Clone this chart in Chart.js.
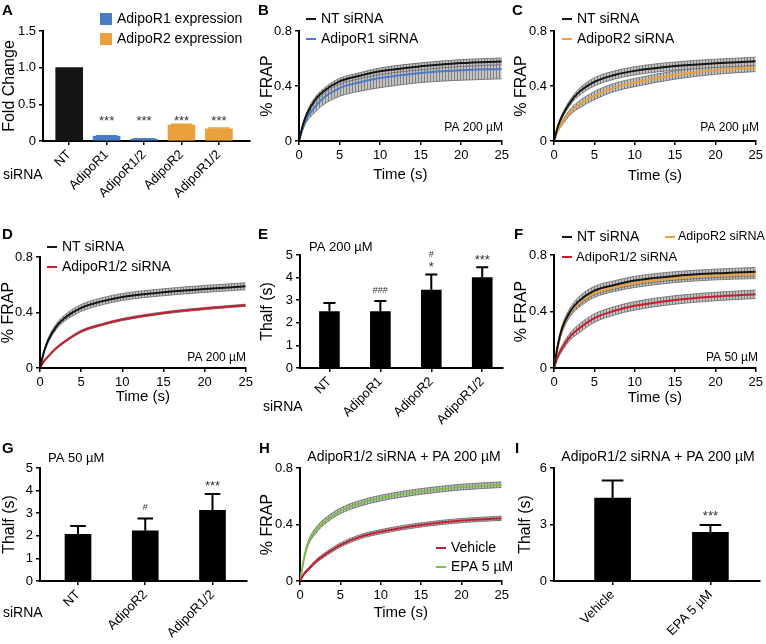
<!DOCTYPE html>
<html><head><meta charset="utf-8">
<script src="https://cdn.jsdelivr.net/npm/chart.js@4.4.1/dist/chart.umd.min.js"></script>
<style>
html,body{margin:0;padding:0;background:#fff;}
body{width:766px;height:644px;position:relative;overflow:hidden;}
canvas{position:absolute;}
</style></head><body>
<canvas id="cA"></canvas><canvas id="cB"></canvas><canvas id="cC"></canvas>
<canvas id="cD"></canvas><canvas id="cE"></canvas><canvas id="cF"></canvas>
<canvas id="cG"></canvas><canvas id="cH"></canvas><canvas id="cI"></canvas>
<script>
// ================= DATA =================
// Panel A: fold change of expression
const catA = ['NT', 'AdipoR1', 'AdipoR1/2', 'AdipoR2', 'AdipoR1/2'];
const foldNT = [1, null, null, null, null];
const foldR1 = [null, 0.065, 0.025, null, null];
const foldR2 = [null, null, null, 0.215, 0.165];
const errFoldR1 = [null, 0.008, 0.004, null, null];
const errFoldR2 = [null, null, null, 0.012, 0.012];
const sigA = ['', '***', '***', '***', '***'];

// FRAP time axis (s)
const timeS = [0, 0.5, 1, 2, 3, 5, 7.5, 10, 15, 20, 25];

// Panel B (PA 200 µM)
const frapB_NT  = [0, 0.12, 0.20, 0.30, 0.36, 0.434, 0.475, 0.507, 0.543, 0.567, 0.579];
const semB_NT   = [0, 0.01, 0.015, 0.02, 0.02, 0.022, 0.022, 0.024, 0.025, 0.025, 0.025];
const frapB_R1  = [0, 0.10, 0.17, 0.25, 0.313, 0.385, 0.427, 0.458, 0.495, 0.514, 0.524];
const semB_R1   = [0, 0.015, 0.025, 0.04, 0.05, 0.06, 0.065, 0.07, 0.07, 0.072, 0.072];
// Panel C (PA 200 µM)
const frapC_NT  = [0, 0.11, 0.18, 0.28, 0.35, 0.43, 0.48, 0.51, 0.545, 0.565, 0.58];
const semC_NT   = [0, 0.01, 0.015, 0.02, 0.025, 0.03, 0.03, 0.03, 0.03, 0.03, 0.03];
const frapC_R2  = [0, 0.08, 0.13, 0.21, 0.26, 0.33, 0.39, 0.425, 0.48, 0.515, 0.535];
const semC_R2   = [0, 0.01, 0.015, 0.02, 0.025, 0.03, 0.03, 0.03, 0.03, 0.03, 0.03];
// Panel D (PA 200 µM)
const frapD_NT  = [0, 0.12, 0.20, 0.30, 0.36, 0.433, 0.48, 0.512, 0.546, 0.57, 0.589];
const semD_NT   = [0, 0.01, 0.015, 0.02, 0.022, 0.025, 0.025, 0.025, 0.025, 0.025, 0.025];
const frapD_R12 = [0, 0.05, 0.084, 0.144, 0.19, 0.264, 0.3125, 0.349, 0.397, 0.428, 0.452];
const semD_R12  = [0, 0.004, 0.005, 0.006, 0.007, 0.008, 0.008, 0.008, 0.008, 0.008, 0.008];
// Panel F (PA 50 µM)
const frapF_NT  = [0, 0.17, 0.28, 0.40, 0.47, 0.548, 0.588, 0.619, 0.652, 0.67, 0.682];
const semF_NT   = [0, 0.015, 0.02, 0.025, 0.03, 0.03, 0.03, 0.03, 0.03, 0.03, 0.03];
const frapF_R2  = [0, 0.16, 0.27, 0.39, 0.454, 0.53, 0.572, 0.60, 0.635, 0.654, 0.663];
const semF_R2   = [0, 0.015, 0.02, 0.025, 0.03, 0.03, 0.03, 0.03, 0.03, 0.03, 0.03];
const frapF_R12 = [0, 0.085, 0.14, 0.224, 0.275, 0.353, 0.405, 0.44, 0.482, 0.506, 0.522];
const semF_R12  = [0, 0.015, 0.02, 0.025, 0.03, 0.03, 0.03, 0.03, 0.03, 0.03, 0.03];
// Panel H (AdipoR1/2 siRNA + PA 200 µM)
const frapH_Veh = [0, 0.05, 0.081, 0.14, 0.183, 0.254, 0.314, 0.349, 0.397, 0.428, 0.444];
const semH_Veh  = [0, 0.008, 0.01, 0.012, 0.014, 0.015, 0.015, 0.015, 0.015, 0.015, 0.015];
const frapH_EPA = [0, 0.16, 0.266, 0.36, 0.42, 0.496, 0.551, 0.587, 0.634, 0.665, 0.682];
const semH_EPA  = [0, 0.01, 0.015, 0.02, 0.02, 0.02, 0.02, 0.02, 0.02, 0.02, 0.02];

// Panel E: Thalf, PA 200 µM
const catE = ['NT', 'AdipoR1', 'AdipoR2', 'AdipoR1/2'];
const thalfE = [2.5, 2.5, 3.45, 4.0];
const errE = [0.38, 0.46, 0.69, 0.46];
const sigE = ['', '###', '#\n*', '***'];
// Panel G: Thalf, PA 50 µM
const catG = ['NT', 'AdipoR2', 'AdipoR1/2'];
const thalfG = [2.07, 2.22, 3.13];
const errG = [0.36, 0.54, 0.72];
const sigG = ['', '#', '***'];
// Panel I: Thalf, AdipoR1/2 siRNA + PA 200 µM
const catI = ['Vehicle', 'EPA 5 µM'];
const thalfI = [4.4, 2.58];
const errI = [0.94, 0.39];
const sigI = ['', '***'];

// ================= STYLE / HELPERS =================
const FONT = "'Liberation Sans', Arial, Helvetica, sans-serif";
const fnt = (s, b) => (b ? 'bold ' : '') + s + 'px ' + FONT;
Chart.defaults.font.family = FONT;
Chart.defaults.font.size = 13;
Chart.defaults.font.weight = 'normal';
Chart.defaults.color = '#000';

const COL = { black: '#151515', blue: '#4a7cc6', orange: '#e9a23b', red: '#c51f2f', green: '#7dbd4c' };

const stripeCanvas = document.createElement('canvas');
stripeCanvas.width = 3; stripeCanvas.height = 4;
(function () {
  const g = stripeCanvas.getContext('2d');
  g.fillStyle = '#c3c3c3'; g.fillRect(0, 0, 3, 4);
  g.fillStyle = '#808080'; g.fillRect(0, 0, 1, 4);
})();
const stripe = document.createElement('canvas').getContext('2d').createPattern(stripeCanvas, 'repeat');

const decor = {
  id: 'decor',
  afterDraw(chart, args, o) {
    const ctx = chart.ctx;
    ctx.save();
    (o.texts || []).forEach(t => {
      ctx.font = t.font; ctx.fillStyle = '#000';
      ctx.textAlign = t.align || 'left'; ctx.textBaseline = t.base || 'middle';
      ctx.fillText(t.text, t.x, t.y);
    });
    const named = chart.data.datasets.filter(d => d.label);
    (o.legend || []).forEach(it => {
      const d = named[it.k];
      if (it.box) {
        ctx.fillStyle = d.backgroundColor;
        ctx.fillRect(it.x, it.y - it.box / 2, it.box, it.box);
      } else {
        ctx.strokeStyle = d.borderColor; ctx.lineWidth = 2;
        ctx.beginPath(); ctx.moveTo(it.x, it.y); ctx.lineTo(it.x + 10, it.y); ctx.stroke();
      }
      ctx.font = fnt(it.size || 14); ctx.fillStyle = '#000'; ctx.textAlign = 'left'; ctx.textBaseline = 'middle';
      ctx.fillText(d.label, it.x + (it.tx || 15), it.y);
    });
    ctx.restore();
  }
};

const barExtras = {
  id: 'barExtras',
  afterDatasetsDraw(chart, args, o) {
    if (!o || !o.on) return;
    const ctx = chart.ctx, ys = chart.scales.y;
    chart.data.datasets.forEach((ds, di) => {
      const meta = chart.getDatasetMeta(di);
      meta.data.forEach((el, k) => {
        const p = ds.data[k]; const i = p.x;
        const err = ds.errors ? ds.errors[i] : null;
        let top = el.y;
        if (err) {
          top = ys.getPixelForValue(p.y + err);
          ctx.save(); ctx.strokeStyle = ds.errColor || '#000'; ctx.lineWidth = o.errWidth || 2;
          ctx.beginPath(); ctx.moveTo(el.x, el.y); ctx.lineTo(el.x, top);
          const hw = el.width * (o.capFrac || 0.3);
          ctx.moveTo(el.x - hw, top); ctx.lineTo(el.x + hw, top); ctx.stroke(); ctx.restore();
        }
        const note = ds.notes ? ds.notes[i] : '';
        if (note) {
          const lines = note.split('\n').reverse();
          const cy = o.noteAt != null ? ys.getPixelForValue(o.noteAt) : top - o.noteGap;
          lines.forEach((ln, j) => {
            const star = ln.includes('*');
            const fs = star ? 13 : 9;
            ctx.save(); ctx.font = fnt(fs); ctx.fillStyle = '#333';
            ctx.textAlign = 'center'; ctx.textBaseline = 'alphabetic';
            ctx.fillText(ln, el.x, cy - j * 10 + (star ? 0.59 : 0.36) * fs);
            ctx.restore();
          });
        }
      });
    });
  }
};
Chart.register(decor, barExtras);

function canvasFor(id, g) {
  const c = document.getElementById(id);
  c.width = g.w; c.height = g.h;
  c.style.left = g.x + 'px'; c.style.top = g.y + 'px';
  return c;
}
const gridCfg = { display: true, drawOnChartArea: false, drawTicks: true, tickLength: 4, color: '#000', lineWidth: 1.5, offset: false };
const borderCfg = { display: true, color: '#000', width: 2 };

function baseOptions(g, xOpts, yOpts, plugins) {
  return {
    responsive: false, animation: false, events: [],
    layout: { padding: { left: 0, top: g.t, right: g.w - g.r, bottom: 0 } },
    plugins: Object.assign({ legend: { display: false }, tooltip: { enabled: false } }, plugins),
    scales: {
      x: Object.assign({ type: 'linear', position: 'bottom', offset: false, afterFit: s => { s.height = g.h - g.b; },
        grid: gridCfg, border: borderCfg }, xOpts),
      y: Object.assign({ type: 'linear', position: 'left', afterFit: s => { s.width = g.l; },
        grid: gridCfg, border: borderCfg }, yOpts)
    }
  };
}

function frapChart(id, g, series, o) {
  const datasets = [];
  series.forEach(s => {
    datasets.push({ data: timeS.map((t, i) => ({ x: t, y: s.mean[i] + s.sem[i] })), borderColor: '#666',
      borderWidth: 0.8, pointRadius: 0, fill: false, order: 10, cubicInterpolationMode: 'monotone' });
    datasets.push({ data: timeS.map((t, i) => ({ x: t, y: s.mean[i] - s.sem[i] })), borderColor: '#666',
      borderWidth: 0.8, pointRadius: 0, fill: '-1', backgroundColor: stripe, order: 10, cubicInterpolationMode: 'monotone' });
  });
  series.forEach(s => datasets.push({ label: s.label, data: timeS.map((t, i) => ({ x: t, y: s.mean[i] })),
    borderColor: s.color, borderWidth: 2, pointRadius: 0, fill: false, order: 0, cubicInterpolationMode: 'monotone' }));
  return new Chart(canvasFor(id, g), {
    type: 'line', data: { datasets },
    options: baseOptions(g,
      { min: 0, max: 25, ticks: { stepSize: 5, maxRotation: 0, padding: 3, font: { size: 13 } },
        title: { display: true, text: 'Time (s)', font: { size: 15, weight: 'normal', lineHeight: 1 }, padding: { top: 0, bottom: o.xPad } } },
      { min: 0, max: 0.8, ticks: { stepSize: 0.4, padding: 3, font: { size: 13 } },
        title: { display: true, text: '% FRAP', font: { size: 16, weight: 'normal', lineHeight: 1 }, padding: { top: o.yPad, bottom: 0 } } },
      { decor: { texts: o.texts, legend: o.legend } })
  });
}

function barChart(id, g, cats, series, o) {
  const datasets = series.map(s => ({
    type: 'bar', label: s.label,
    data: cats.map((c, i) => ({ x: i, y: s.values[i] })).filter(p => p.y != null),
    backgroundColor: s.color, barThickness: o.barW, grouped: false,
    errors: s.errors, notes: s.notes, errColor: s.errColor
  }));
  return new Chart(canvasFor(id, g), {
    type: 'bar', data: { datasets },
    options: baseOptions(g,
      { min: o.xr[0], max: o.xr[1], offset: false,
        afterBuildTicks: s => { s.ticks = cats.map((c, i) => ({ value: i })); },
        ticks: { autoSkip: false, minRotation: 45, maxRotation: 45, padding: 2, font: { size: 13 },
          callback: v => cats[v] } },
      { min: 0, max: o.ymax, ticks: { stepSize: o.ystep, padding: 3, font: { size: 13 } },
        title: { display: true, text: o.yTitle, font: { size: 16, weight: 'normal', lineHeight: 1 }, padding: { top: o.yPad, bottom: 0 } } },
      { decor: { texts: o.texts, legend: o.legend }, barExtras: o.extras })
  });
}

// ================= PANELS =================
barChart('cA', { x: 0, y: 0, w: 256, h: 215, l: 43, t: 31, r: 250, b: 141 }, catA, [
  { values: foldNT, color: COL.black },
  { label: 'AdipoR1 expression', values: foldR1, color: COL.blue, errors: errFoldR1, errColor: COL.blue, notes: sigA },
  { label: 'AdipoR2 expression', values: foldR2, color: COL.orange, errors: errFoldR2, errColor: COL.orange, notes: sigA }
], { barW: 27, xr: [-0.70, 4.83], ymax: 1.5, ystep: 0.5, yTitle: 'Fold Change', yPad: 2,
  extras: { on: true, errWidth: 1.5, capFrac: 0.4, noteAt: 0.32 },
  legend: [{ k: 0, x: 100, y: 19, box: 12, tx: 17 }, { k: 1, x: 100, y: 39, box: 12, tx: 17 }],
  texts: [{ text: 'A', x: 2, y: 15, font: fnt(15, true), base: 'alphabetic' },
          { text: 'siRNA', x: 3, y: 175, font: fnt(14) }] });

frapChart('cB', { x: 256, y: 0, w: 256, h: 215, l: 43, t: 31, r: 247, b: 141 }, [
  { label: 'NT siRNA', color: COL.black, mean: frapB_NT, sem: semB_NT },
  { label: 'AdipoR1 siRNA', color: COL.blue, mean: frapB_R1, sem: semB_R1 }
], { xPad: 32.5, yPad: 4,
  legend: [{ k: 0, x: 50, y: 19 }, { k: 1, x: 50, y: 39 }],
  texts: [{ text: 'B', x: 2, y: 15, font: fnt(15, true), base: 'alphabetic' },
          { text: 'PA 200 µM', x: 247, y: 128, align: 'right', font: fnt(12) }] });

frapChart('cC', { x: 510, y: 0, w: 256, h: 215, l: 44, t: 31, r: 249, b: 141 }, [
  { label: 'NT siRNA', color: COL.black, mean: frapC_NT, sem: semC_NT },
  { label: 'AdipoR2 siRNA', color: COL.orange, mean: frapC_R2, sem: semC_R2 }
], { xPad: 31.5, yPad: 4,
  legend: [{ k: 0, x: 52, y: 19 }, { k: 1, x: 52, y: 39 }],
  texts: [{ text: 'C', x: 2, y: 15, font: fnt(15, true), base: 'alphabetic' },
          { text: 'PA 200 µM', x: 249, y: 128, align: 'right', font: fnt(12) }] });

frapChart('cD', { x: 0, y: 215, w: 256, h: 215, l: 40, t: 42, r: 246, b: 153 }, [
  { label: 'NT siRNA', color: COL.black, mean: frapD_NT, sem: semD_NT },
  { label: 'AdipoR1/2 siRNA', color: COL.red, mean: frapD_R12, sem: semD_R12 }
], { xPad: 25.5, yPad: 1,
  legend: [{ k: 0, x: 47, y: 32 }, { k: 1, x: 47, y: 52 }],
  texts: [{ text: 'D', x: 2, y: 24, font: fnt(15, true), base: 'alphabetic' },
          { text: 'PA 200 µM', x: 246, y: 143, align: 'right', font: fnt(12) }] });

barChart('cE', { x: 256, y: 215, w: 256, h: 215, l: 44, t: 40, r: 247, b: 153 }, catE, [
  { values: thalfE, color: '#000', errors: errE, notes: sigE }
], { barW: 20, xr: [-0.578, 3.408], ymax: 5, ystep: 1, yTitle: 'Thalf (s)', yPad: 4,
  extras: { on: true, errWidth: 2, capFrac: 0.3, noteGap: 11 },
  texts: [{ text: 'E', x: 2, y: 24, font: fnt(15, true), base: 'alphabetic' },
          { text: 'PA 200 µM', x: 53, y: 32, font: fnt(13) },
          { text: 'siRNA', x: 7, y: 192, font: fnt(14) }] });

frapChart('cF', { x: 510, y: 215, w: 256, h: 215, l: 44, t: 40, r: 249, b: 153 }, [
  { label: 'NT siRNA', color: COL.black, mean: frapF_NT, sem: semF_NT },
  { label: 'AdipoR2 siRNA', color: COL.orange, mean: frapF_R2, sem: semF_R2 },
  { label: 'AdipoR1/2 siRNA', color: COL.red, mean: frapF_R12, sem: semF_R12 }
], { xPad: 24.5, yPad: 4,
  legend: [{ k: 0, x: 52, y: 22, size: 14 }, { k: 1, x: 155, y: 22, tx: 13, size: 12.5 }, { k: 2, x: 52, y: 42, tx: 14, size: 13 }],
  texts: [{ text: 'F', x: 4, y: 24, font: fnt(15, true), base: 'alphabetic' },
          { text: 'PA 50 µM', x: 248, y: 143, align: 'right', font: fnt(12) }] });

barChart('cG', { x: 0, y: 430, w: 256, h: 214, l: 40, t: 38, r: 247, b: 151 }, catG, [
  { values: thalfG, color: '#000', errors: errG, notes: sigG }
], { barW: 26, xr: [-0.565, 2.513], ymax: 5, ystep: 1, yTitle: 'Thalf (s)', yPad: 2,
  extras: { on: true, errWidth: 2, capFrac: 0.3, noteGap: 12 },
  texts: [{ text: 'G', x: 2, y: 23, font: fnt(15, true), base: 'alphabetic' },
          { text: 'PA 50 µM', x: 48, y: 28, font: fnt(13) },
          { text: 'siRNA', x: 3, y: 183, font: fnt(14) }] });

frapChart('cH', { x: 256, y: 430, w: 256, h: 214, l: 44, t: 38, r: 249, b: 151 }, [
  { label: 'Vehicle', color: COL.red, mean: frapH_Veh, sem: semH_Veh },
  { label: 'EPA 5 µM', color: COL.green, mean: frapH_EPA, sem: semH_EPA }
], { xPad: 23.5, yPad: 4,
  legend: [{ k: 0, x: 180, y: 118 }, { k: 1, x: 180, y: 137 }],
  texts: [{ text: 'H', x: 3, y: 23, font: fnt(15, true), base: 'alphabetic' },
          { text: 'AdipoR1/2 siRNA + PA 200 µM', x: 148, y: 27, align: 'center', font: fnt(14) }] });

barChart('cI', { x: 510, y: 430, w: 256, h: 214, l: 44, t: 38, r: 250, b: 151 }, catI, [
  { values: thalfI, color: '#000', errors: errI, notes: sigI }
], { barW: 36, xr: [-0.599, 1.507], ymax: 6, ystep: 3, yTitle: 'Thalf (s)', yPad: 8,
  extras: { on: true, errWidth: 2, capFrac: 0.3, noteGap: 13 },
  texts: [{ text: 'I', x: 5, y: 23, font: fnt(15, true), base: 'alphabetic' },
          { text: 'AdipoR1/2 siRNA + PA 200 µM', x: 148, y: 27, align: 'center', font: fnt(14) }] });
</script>
</body></html>
